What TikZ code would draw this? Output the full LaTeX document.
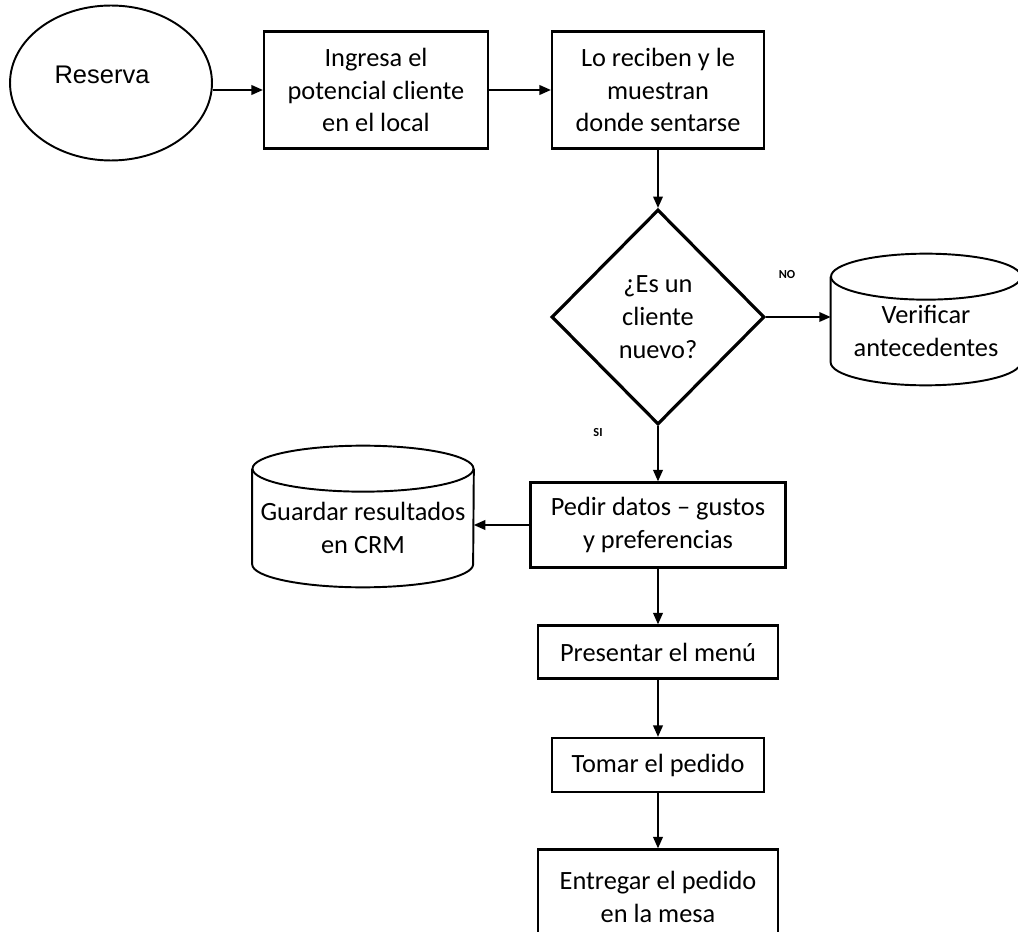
\documentclass[tikz,border=0pt]{standalone}
\usepackage{fontspec}
\setmainfont{Carlito}
\newfontfamily\arialfont{Liberation Sans}
\usetikzlibrary{shapes.geometric,arrows.meta}
\tikzset{
	paso/.style={draw, line width=1.3pt, align=center, inner sep=0pt,
			font=\fontsize{15}{18.6}\selectfont},
	inicio/.style={draw, ellipse, line width=1.1pt, inner sep=0pt,
			font=\arialfont\fontsize{14.5}{17}\selectfont},
	decision/.style={draw, diamond, line width=1.8pt, align=center, inner sep=0pt,
			font=\fontsize{15}{18.6}\selectfont},
	base/.style={rectangle, align=center, inner sep=0pt,
			font=\fontsize{15}{18.6}\selectfont},
	borde/.style={line width=1.1pt},
	flecha/.style={-{Triangle[length=6.5pt,width=5.5pt]}, line width=0.9pt},
	etiqueta/.style={font=\fontsize{7}{8}\selectfont\bfseries, inner sep=0pt}
}
% cylinder outline round a base node: #1 name, #2 half width
\newcommand{\cilindro}[2]{%
	\draw[borde] (#1.north west) -- ([yshift=4.6mm]#1.south west)
	arc[start angle=180, end angle=360, x radius=#2, y radius=4.6mm]
	-- (#1.north east);
	\draw[borde, fill=white] (#1.north) ellipse [x radius=#2, y radius=4.6mm];
}

\begin{document}
\begin{tikzpicture}[x=0.02cm, y=-0.02cm]
	\useasboundingbox (0,0) rectangle (1018,932);
	\node[inicio, minimum width=4.04cm, minimum height=3.1cm] (reserva) at (111,83)
	{\raisebox{0.32cm}{\hspace*{-0.36cm}Reserva}};
	\node[paso, minimum width=4.48cm, minimum height=2.34cm] (ingresa) at (376,90)
	{Ingresa el\\potencial cliente\\en el local};
	\node[paso, minimum width=4.24cm, minimum height=2.34cm] (recibir) at (658,90)
	{Lo reciben y le\\muestran\\donde sentarse};
	\node[decision, minimum width=4.26cm, minimum height=4.3cm] (nuevo) at (658,317)
	{¿Es un\\cliente\\nuevo?};
	\node[base, minimum width=3.8cm, minimum height=2.16cm] (verificar) at (926,331)
	{Verificar\\antecedentes};
	\node[paso, minimum width=5.1cm, minimum height=1.7cm] (pedir) at (658,525)
	{Pedir datos -- gustos\\y preferencias};
	\node[base, minimum width=4.42cm, minimum height=2.36cm] (crm) at (363,528)
	{Guardar resultados\\en CRM};
	\node[paso, minimum width=4.8cm, minimum height=1.06cm] (menu) at (658,652)
	{Presentar el menú};
	\node[paso, minimum width=4.24cm, minimum height=1.08cm] (tomar) at (658,765)
	{Tomar el pedido};
	\node[paso, minimum width=4.8cm, minimum height=1.9cm] (entregar) at (658,897)
	{Entregar el pedido\\en la mesa};
	\node[etiqueta] (no) at (787,275) {NO};
	\node[etiqueta] (si) at (598,433) {SI};
	\cilindro{verificar}{1.9cm}
	\cilindro{crm}{2.21cm}

	\draw[flecha] (reserva.east |- ingresa.west) -- (ingresa.west);
	\draw[flecha] (ingresa) -- (recibir);
	\draw[flecha] (recibir) -- (nuevo);
	\draw[flecha] (nuevo.east) -- (verificar.west |- nuevo.east);
	\draw[flecha] (nuevo) -- (pedir);
	\draw[flecha] (pedir.west) -- (crm.east |- pedir.west);
	\draw[flecha] (pedir) -- (menu);
	\draw[flecha] (menu) -- (tomar);
	\draw[flecha] (tomar) -- (entregar);
\end{tikzpicture}
\end{document}
